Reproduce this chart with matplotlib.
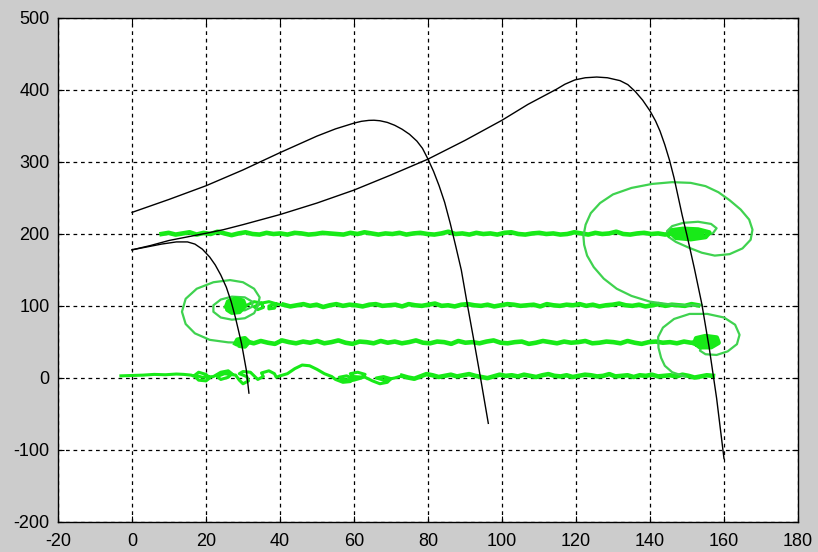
import numpy as np
import matplotlib
matplotlib.use("Agg")
import matplotlib.pyplot as plt

# ---------------- data ----------------
xticks = [-20, 0, 20, 40, 60, 80, 100, 120, 140, 160, 180]
yticks = [-200, -100, 0, 100, 200, 300, 400, 500]

# black trajectories
traj1_x = [0, 4, 8, 12, 15, 17, 19, 21, 22.5, 24, 25.5, 26.8, 28, 29.6, 30.9, 31.6]
traj1_y = [178, 182, 186, 189, 189, 186, 179, 168, 157, 143, 126, 106, 83, 48, 11, -21]

traj2_x = [0, 10, 20, 30, 40, 50, 55, 60, 62, 64, 65.4, 67, 69, 71, 73, 75, 77, 78.5, 80,
           81.5, 83, 84.5, 86, 87.5, 89, 90.6, 92.4, 94.2, 96.3]
traj2_y = [230, 248, 267, 289, 313, 336, 346, 354, 356.5, 357.8, 358, 357.3, 355, 351,
           345.5, 338.5, 329, 319, 304, 287, 267, 244, 215, 183, 150, 103, 52, 0, -63]

traj3_x = [0, 5, 10, 15, 20, 24.7, 30, 40, 50, 60, 70, 80, 90, 100, 107, 114.7, 117, 119.7,
           122.5, 125.6, 128.5, 131.9, 134, 136, 138, 140, 141.5, 142.7, 144, 145.3, 146.5,
           147.6, 148.7, 150, 152, 154, 156, 158, 160]
traj3_y = [178, 184, 191, 196, 201, 206, 213, 227, 243, 261, 282, 304, 330, 358, 380, 401,
           408, 414, 417, 418, 417, 413, 407.5, 398, 386, 371, 357, 343, 324, 302, 278,
           252, 226, 198, 152, 103, 42, -28, -112]

# green tracks: noisy horizontal segments (start, end, level, offsets)
trackA_range = (8, 146)
trackA_level = 200
trackA_dy = [0, 2, -1, 1, 3, -1, 2, 0, 4, 1, -2, 1, 3, 0, -1, 2, 0, 1, -1, 2, 1, -1, 0, 2,
             1, 0, -1, 2, 0, 3, 1, -1, 1, 0, 2, -1, 1, 2, 0, -1, 1, 4, 0, 1, -1, 2, 0, 1,
             -1, 2, 3, 0, -1, 1, 2, 0, 1, -1, 0, 3, 1, -1, 2, 0, 1, 4, 0, -1, 1, 2, 0, 1,
             -1, 2]

trackB_range = (41, 153)
trackB_level = 101
trackB_dy = [1, -2, 0, 2, -1, 1, -3, 0, 2, -1, 1, 0, -2, 1, 2, -1, 0, 1, -2, 2, 0, -1, 1,
             3, -1, 0, -2, 1, 2, 0, -1, 1, -2, 0, 2, 1, -1, 0, 1, -2, 2, 0, -1, 1, 0, 2,
             -1, 1, -2, 0, 1, 3, 0, -1, 1, -2, 0, 2, -1, 1, 0, -1, 2, 0]
trackB_loops_x = [28, 31, 33, 35, 35.5, 34, 33, 35, 37, 39, 38.5, 37, 37, 39, 41]
trackB_loops_y = [101, 101, 106, 104, 98, 95, 99, 104, 106, 103, 97, 96, 100, 103, 101]

trackC_range = (31, 153)
trackC_level = 49
trackC_dy = [2, -1, 3, 0, -2, 4, 1, -1, 2, 0, 3, -1, 1, 4, 0, -2, 2, 1, -1, 3, 0, 2, -1, 1,
             4, 0, -1, 2, 1, -2, 3, 0, 1, -1, 2, 4, 0, -1, 1, 2, -2, 0, 3, 1, -1, 2, 0, 1,
             3, -1, 0, 2, 1, -1, 3, 0, -2, 1, 2, 0, 1, -1, 2, 0, 1]

trackD_head_x = [-3, 0, 3, 6, 9, 12, 14, 16, 17, 18, 20, 21, 20, 18, 17, 19, 22, 24, 26, 27,
                 26, 24, 23, 25, 28, 29, 30, 31.5, 31, 29, 30, 32, 33, 34, 35.5, 35, 37,
                 38.5, 39, 40, 42, 44, 46, 48, 50, 52, 54, 55, 57, 59, 60, 58, 56, 57, 60,
                 62, 63, 61, 59, 60, 63, 65, 67, 69, 70, 68, 66, 68, 71, 73]
trackD_head_y = [3, 3.5, 4, 5, 4.5, 5.5, 5, 4, 2, -3, -4, 0, 5, 8, 4, 1, 2, 8, 10, 6, 1, -2,
                 2, 6, 4, -3, -8, -4, 2, 6, 9, 8, 3, -2, 2, 7, 10, 6, 1, 3, 6, 13, 18, 17,
                 12, 6, 2, -2, -6, -5, -1, 3, 1, -2, -3, 0, 5, 8, 6, 2, 1, -4, -8, -6, -1,
                 2, 0, -3, 0, 3]
trackD_range = (73, 157)
trackD_level = 3
trackD_dy = [0, -3, -5, -1, 3, 1, -2, 0, 2, -1, 1, 3, 0, -2, -4, -1, 2, 0, 1, -1, 2, 0, -2,
             1, 3, 0, -1, 1, -2, 0, 2, 1, -1, 0, 3, -1, 0, 1, -2, 1, 0, 2, -1, 0, 1, -1, 2,
             0, -3, -1, 1, 0]

# spirals (filter convergence loops)
spiral_left_x = [30, 26, 21, 17, 14.5, 13.5, 14.5, 17.5, 22, 26.5, 30, 33, 34.5, 34, 33,
                 30.5, 27, 24, 22, 22, 24, 27, 30.5, 32.5, 32.5, 30.5, 28, 26, 27.5]
spiral_left_y = [49, 49.5, 53, 62, 75, 92, 110, 124, 133, 136, 133, 124, 112, 100, 90, 83,
                 81, 84, 92, 101, 109, 113, 112, 106, 99, 94, 94, 98, 101]

spiral_big_x = [154, 150, 145, 140, 135, 131, 127.5, 124.8, 123, 122.2, 122, 122.6, 124,
                126.5, 130, 135, 140.5, 146, 151, 155, 158.5, 161.5, 164.5, 166.8, 167.7,
                167.2, 165, 161.5, 157.5, 154, 150.5, 147, 145, 144.6, 146, 149, 153,
                156.5, 158, 157, 154, 150, 147.5, 150]
spiral_big_y = [101, 101, 102.5, 106, 114, 124, 138, 154, 170, 185, 197, 213, 229, 243,
                255, 264, 269.5, 272, 271, 266.5, 258, 247, 234, 220, 206, 192, 180, 172,
                170, 174, 181, 189, 196, 204, 211, 215.5, 217, 214, 208, 201, 196, 195,
                198, 200]

spiral_lr_x = [149.5, 146, 144, 143, 142.3, 142.2, 143.5, 146.5, 150.7, 155.5, 160, 163,
               164.2, 163.5, 161, 158, 155, 153.5, 154, 155]
spiral_lr_y = [2, 8, 17, 28, 42, 57, 70, 82, 89, 89, 84, 74, 60, 47, 37, 32, 33, 38, 45, 50]

# dense blobs where the filters settle
blob1_x = [145, 146, 149, 153, 156, 155, 151, 147, 146, 149, 153, 154, 151, 148, 149, 152, 151]
blob1_y = [199, 205, 207, 206, 202, 196, 193, 195, 200, 204, 203, 199, 196, 198, 202, 201, 198]
blob2_x = [25.5, 26, 28, 30, 30.5, 29, 27, 25.8, 26.5, 28.5, 29.5, 28.5, 27, 27.5, 28.8]
blob2_y = [99, 106, 110, 107, 100, 92, 91, 95, 102, 106, 101, 95, 97, 103, 100]
blob3_x = [152, 152.5, 155, 158, 158.5, 156.5, 153.5, 152.5, 154, 157, 157.5, 155, 153.8, 156]
blob3_y = [48, 55, 58, 56, 49, 43, 43, 47, 53, 54, 48, 45, 49, 52]
blob4_x = [28, 28.5, 30.5, 31.5, 30.5, 29, 29.5, 30.8]
blob4_y = [48, 53, 55, 50, 44, 45, 51, 49]

# ---------------- plotting ----------------
plt.rcParams['font.family'] = ['Liberation Sans', 'DejaVu Sans']
plt.rcParams['axes.unicode_minus'] = False
fig = plt.figure(figsize=(8.18, 5.52), dpi=100, facecolor='#cccccc')
ax = fig.add_axes([58 / 818, 30 / 552, 740 / 818, 504 / 552])
ax.set_facecolor('white')

GREEN = '#18ea18'
GREEN_THIN = '#3fd24f'
NOISE_SCALE = 0.8


def track(rng, level, dy):
    xs = np.linspace(rng[0], rng[1], len(dy))
    return xs, level + NOISE_SCALE * np.asarray(dy, dtype=float)


for (rng, lvl, dy) in [(trackA_range, trackA_level, trackA_dy),
                       (trackB_range, trackB_level, trackB_dy),
                       (trackC_range, trackC_level, trackC_dy),
                       (trackD_range, trackD_level, trackD_dy)]:
    xs, ys = track(rng, lvl, dy)
    ax.plot(xs, ys, color=GREEN, lw=3.3, solid_joinstyle='round', zorder=3)

ax.plot(trackB_loops_x, trackB_loops_y, color=GREEN, lw=2.2, zorder=3)
ax.plot(trackD_head_x, trackD_head_y, color=GREEN, lw=2.2, zorder=3)

for sx, sy in [(spiral_left_x, spiral_left_y), (spiral_big_x, spiral_big_y),
               (spiral_lr_x, spiral_lr_y)]:
    ax.plot(sx, sy, color=GREEN_THIN, lw=1.6, zorder=3)

for bx, by in [(blob1_x, blob1_y), (blob2_x, blob2_y), (blob3_x, blob3_y), (blob4_x, blob4_y)]:
    ax.plot(bx, by, color=GREEN, lw=3.5, solid_joinstyle='round', zorder=3)

for tx, ty in [(traj1_x, traj1_y), (traj2_x, traj2_y), (traj3_x, traj3_y)]:
    ax.plot(tx, ty, color='black', lw=1.0, zorder=4)

ax.set_xlim(-20, 180)
ax.set_ylim(-200, 500)
ax.set_xticks(xticks)
ax.set_yticks(yticks)
ax.grid(True, color='black', linestyle=(0, (3, 3)), linewidth=0.9)
ax.set_axisbelow(True)
ax.tick_params(direction='in', length=4, width=0.8, top=True, right=True,
               labelsize=13, colors='black')
ax.tick_params(axis='x', pad=8)
ax.tick_params(axis='y', pad=6)
for s in ax.spines.values():
    s.set_color('black')
    s.set_linewidth(1.0)

fig.savefig('out.png', dpi=100, facecolor=fig.get_facecolor())
